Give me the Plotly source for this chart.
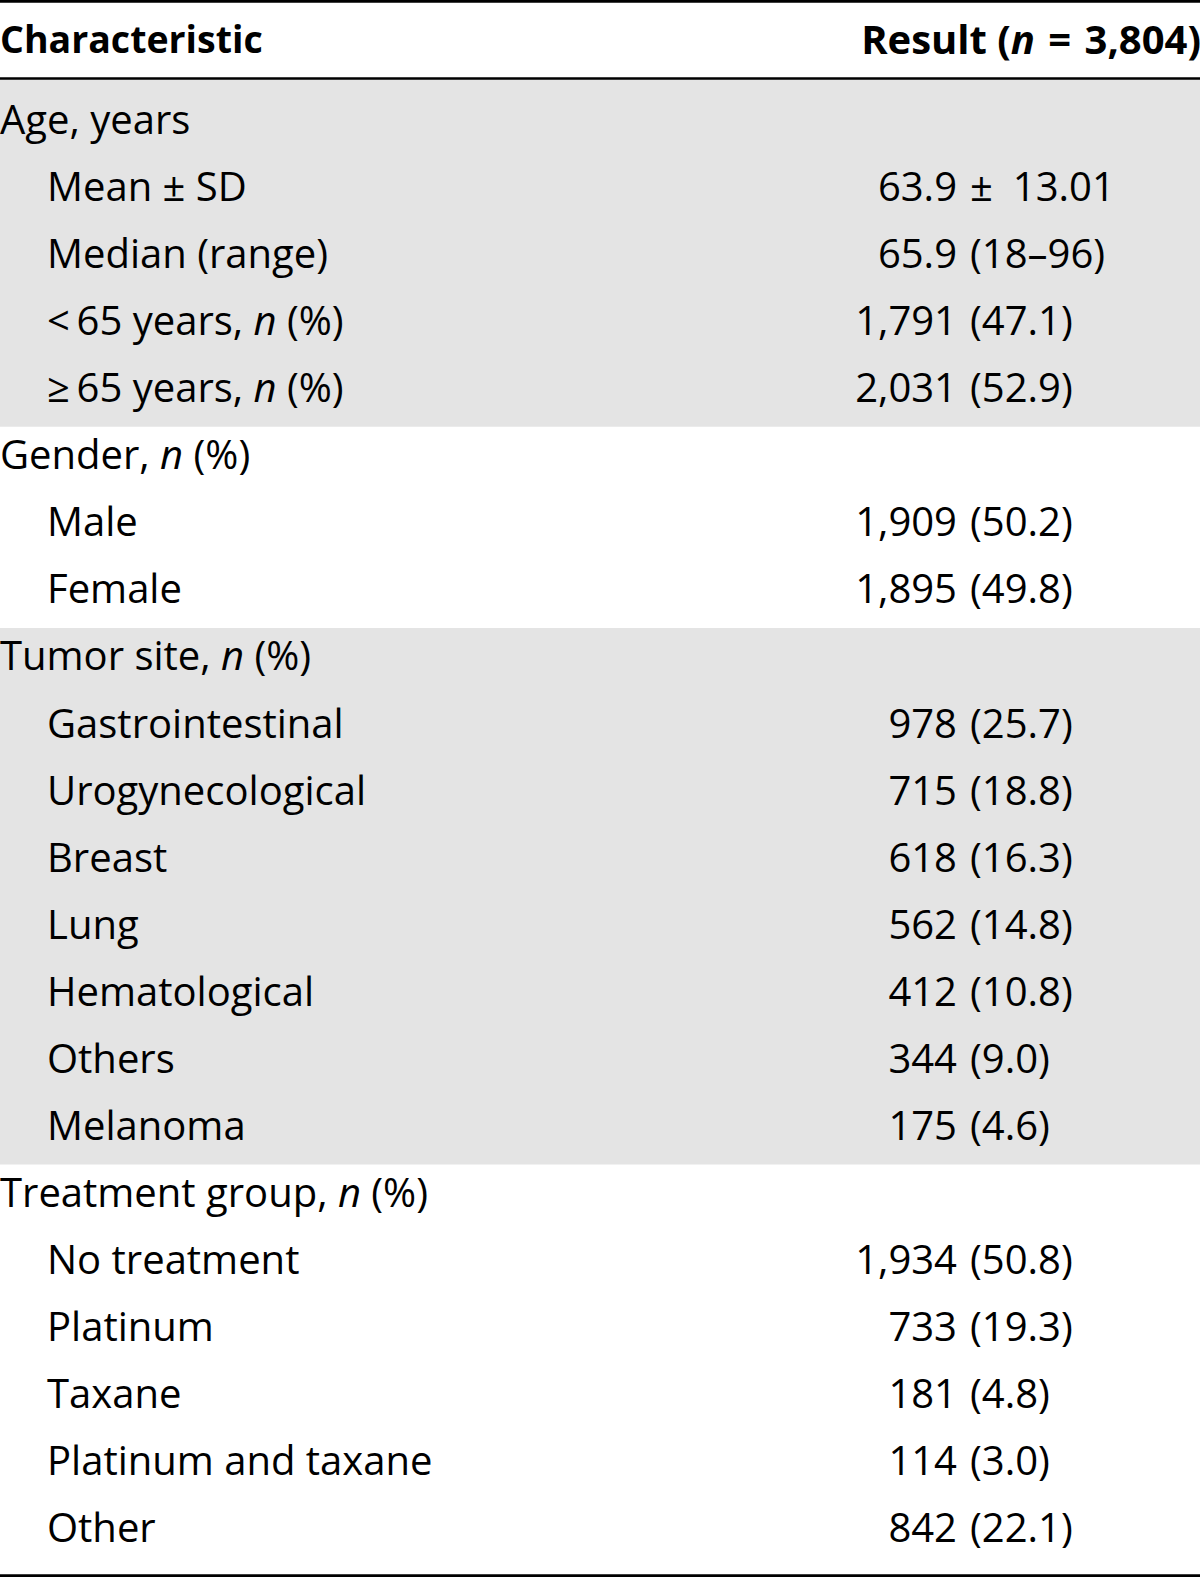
import plotly.graph_objects as go

# ---------------- data ----------------
labels = [
    "Age, years", "Mean \u00b1 SD", "Median (range)",
    "\u003c\u200665 years, <i>n</i> (%)", "\u2265\u200665 years, <i>n</i> (%)",
    "Gender, <i>n</i> (%)", "Male", "Female",
    "Tumor site, <i>n</i> (%)", "Gastrointestinal", "Urogynecological", "Breast", "Lung",
    "Hematological", "Others", "Melanoma",
    "Treatment group, <i>n</i> (%)", "No treatment", "Platinum", "Taxane", "Platinum and taxane", "Other",
]
indent = [0, 1, 1, 1, 1,
          0, 1, 1,
          0, 1, 1, 1, 1, 1, 1, 1,
          0, 1, 1, 1, 1, 1]
value_main = ["", "63.9", "65.9", "1,791", "2,031",
              "", "1,909", "1,895",
              "", "978", "715", "618", "562", "412", "344", "175",
              "", "1,934", "733", "181", "114", "842"]
value_detail = ["", "\u00b1\u200213.01", "(18\u201396)", "(47.1)", "(52.9)",
                "", "(50.2)", "(49.8)",
                "", "(25.7)", "(18.8)", "(16.3)", "(14.8)", "(10.8)", "(9.0)", "(4.6)",
                "", "(50.8)", "(19.3)", "(4.8)", "(3.0)", "(22.1)"]
# groups: (first row, last row, shaded)
groups = [(0, 4, True), (5, 7, False), (8, 15, True), (16, 21, False)]
header_left = "<b>Characteristic</b>"
header_right = "<b>Result (<i>n</i>\u2004=\u20043,804)</b>"

# ---------------- layout constants ----------------
W, H = 1200, 1577
ROW0, ROW_H = 124.0, 67.06
HEADER_Y = 44
FONT = "Open Sans, Calibri, Lato, sans-serif"
FS = 40
X_LEFT, X_INDENT = 0, 47
X_MAIN_END, X_DETAIL = 957, 970
SHADE = "#e4e4e4"

rows = list(range(len(labels)))
yc = [ROW0 + ROW_H * i for i in rows]

fig = go.Figure()

# shaded bands
shapes = []
for (a, b, shaded) in groups:
    top = 78.5 if a == 0 else (yc[a - 1] + yc[a]) / 2 + 1.0
    bot = (yc[b] + yc[b + 1]) / 2 + 1.0 if b + 1 < len(yc) else 1575
    if shaded:
        shapes.append(dict(type="rect", xref="paper", yref="y", x0=0, x1=1, y0=top, y1=bot,
                           fillcolor=SHADE, line=dict(width=0), layer="below"))
# rules
for yv, w in [(1.3, 2.8), (78.5, 2.6), (1575.7, 2.8)]:
    shapes.append(dict(type="line", xref="paper", yref="y", x0=0, x1=1, y0=yv, y1=yv,
                       line=dict(color="black", width=w), layer="above"))

tf = dict(family=FONT, size=FS, color="black")

# left labels
fig.add_trace(go.Scatter(
    x=[X_INDENT if ind else X_LEFT for ind in indent], y=yc, mode="text",
    text=labels, textposition="middle right",
    textfont=tf, hoverinfo="skip", showlegend=False))

# values: main part right-aligned, detail part left-aligned
mi = [i for i in rows if value_main[i]]
fig.add_trace(go.Scatter(
    x=[X_MAIN_END] * len(mi), y=[yc[i] for i in mi], mode="text",
    text=[value_main[i] for i in mi], textposition="middle left",
    textfont=tf, hoverinfo="skip", showlegend=False))
fig.add_trace(go.Scatter(
    x=[X_DETAIL] * len(mi), y=[yc[i] for i in mi], mode="text",
    text=[value_detail[i] for i in mi], textposition="middle right",
    textfont=tf, hoverinfo="skip", showlegend=False))

# header
fig.add_trace(go.Scatter(
    x=[X_LEFT], y=[HEADER_Y], mode="text", text=[header_left], textposition="middle right",
    textfont=dict(family=FONT, size=37.5, color="black"), hoverinfo="skip", showlegend=False))
fig.add_trace(go.Scatter(
    x=[1201], y=[HEADER_Y], mode="text", text=[header_right], textposition="middle left",
    textfont=tf, hoverinfo="skip", showlegend=False))

fig.update_layout(
    width=W, height=H, margin=dict(l=0, r=0, t=0, b=0),
    paper_bgcolor="white", plot_bgcolor="white",
    xaxis=dict(range=[0, W], visible=False, fixedrange=True),
    yaxis=dict(range=[H, 0], visible=False, fixedrange=True),
    shapes=shapes, showlegend=False,
)

fig.write_html("out.html", config={"displayModeBar": False},
               post_script="document.body.style.margin='0';document.body.style.overflow='hidden';")
